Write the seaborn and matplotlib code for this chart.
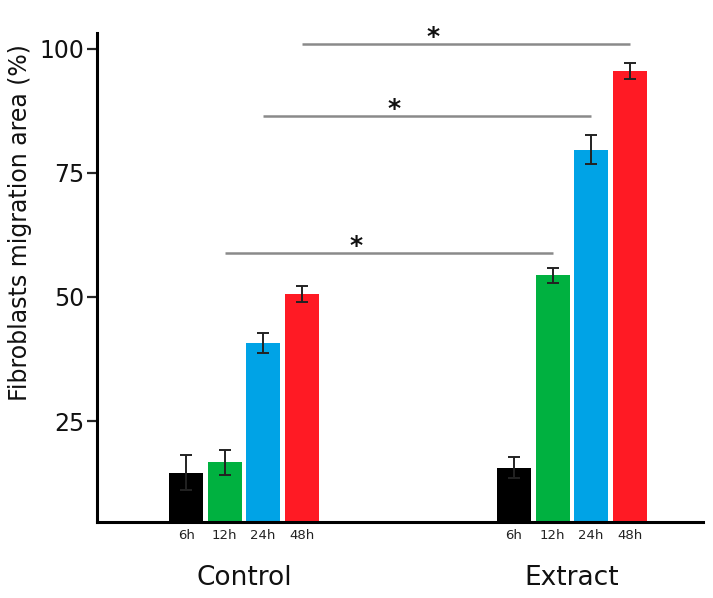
import matplotlib
matplotlib.use('Agg')
import matplotlib.pyplot as plt
import seaborn as sns
import pandas as pd

# ---- data ----
groups = ['Control', 'Extract']
times = ['6h', '12h', '24h', '48h']
control_values = [14.6, 16.7, 40.7, 50.6]
extract_values = [15.6, 54.4, 79.7, 95.6]
control_errors = [3.5, 2.5, 2.0, 1.6]
extract_errors = [2.1, 1.5, 3.0, 1.6]
bar_colors = ['#000000', '#00B140', '#00A3E6', '#FF1A24']
sig_times = ['12h', '24h', '48h']
sig_levels = [58.8, 86.4, 101.0]
y_ticks = [25, 50, 75, 100]
y_label = 'Fibroblasts migration area (%)'

sns.set_style('ticks')
plt.rcParams['font.family'] = ['DejaVu Sans']

df = pd.DataFrame({
    'group': [g for g in groups for _ in times],
    'time': times * len(groups),
    'value': control_values + extract_values,
    'err': control_errors + extract_errors,
})

fig = plt.figure(figsize=(7.13, 5.98), dpi=100)
ax = fig.add_axes([0.136, 0.127, 0.850, 0.818])

sns.barplot(data=df, x='group', y='value', hue='time', order=groups,
            hue_order=times, palette=bar_colors, width=0.47, gap=0.12,
            errorbar=None, legend=False, linewidth=0, saturation=1, ax=ax)

# bar centres from the drawn patches
centers = {}
for t, cont in zip(times, ax.containers):
    for g, bar in zip(groups, cont):
        centers[(g, t)] = (bar.get_x() + bar.get_width() / 2, bar.get_height())

xs = [centers[(g, t)][0] for g in groups for t in times]
hs = [centers[(g, t)][1] for g in groups for t in times]
ax.errorbar(xs, hs, yerr=df['err'].tolist(), fmt='none', ecolor='#222222',
            elinewidth=1.4, capsize=4.5, capthick=1.4, zorder=5)

# significance lines
for t, lvl in zip(sig_times, sig_levels):
    x0 = centers[('Control', t)][0]
    x1 = centers[('Extract', t)][0]
    ax.plot([x0, x1], [lvl, lvl], color='#8a8a8a', lw=1.8, clip_on=False,
            solid_capstyle='butt')
    ax.annotate('*', xy=(x0 + 0.4 * (x1 - x0), lvl), xytext=(0, 5),
                textcoords='offset points', ha='center', va='center',
                fontsize=18, fontweight='bold', color='#111111',
                annotation_clip=False)

ax.set_xlim(-0.448, 1.4)
ax.set_ylim(4.64, 103.2)
ax.set_yticks(y_ticks)
ax.set_yticklabels([str(v) for v in y_ticks])

# x labels: groups (major) and time points (minor)
ax.set_xticks([0, 1])
ax.set_xticklabels(groups)
ax.set_xticks(xs, minor=True)
ax.set_xticklabels(times * len(groups), minor=True)
ax.tick_params(axis='x', which='major', length=0, pad=31, labelsize=19,
               labelcolor='#111111')
ax.tick_params(axis='x', which='minor', length=0, pad=5, labelsize=9.5,
               labelcolor='#222222')
ax.tick_params(axis='y', direction='out', length=7, width=1.6, pad=2,
               labelsize=17, labelcolor='#111111')

ax.set_xlabel('')
ax.set_ylabel(y_label, fontsize=17, color='#111111')
ax.yaxis.set_label_coords(-0.107, 0.613)

sns.despine(ax=ax)
for s in ['left', 'bottom']:
    ax.spines[s].set_linewidth(2.2)
    ax.spines[s].set_color('#000000')

fig.savefig('out.png', dpi=100)
